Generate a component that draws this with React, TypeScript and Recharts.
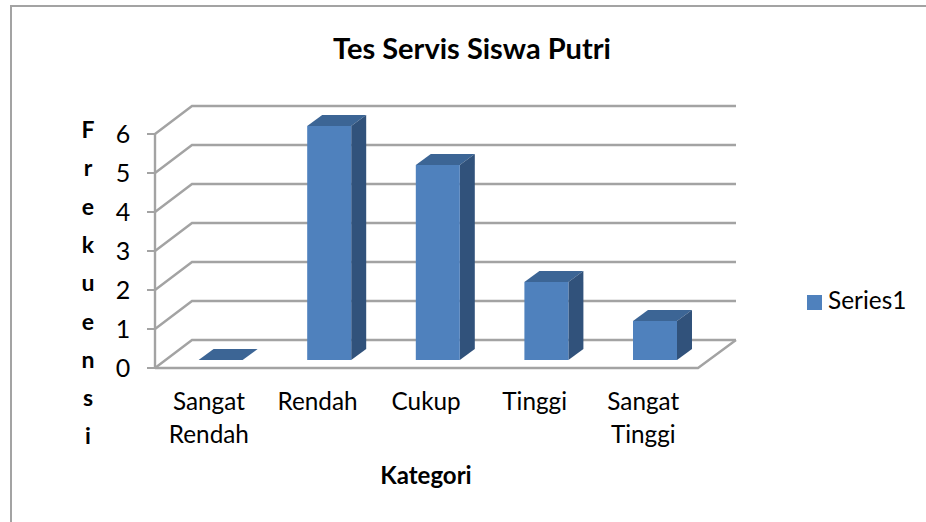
import React from 'react';
import { BarChart, Bar, XAxis, YAxis, CartesianGrid, Legend } from 'recharts';

const categories = ['Sangat Rendah', 'Rendah', 'Cukup', 'Tinggi', 'Sangat Tinggi'];
const values = [0, 6, 5, 2, 1];
const yTicks = [0, 1, 2, 3, 4, 5, 6];
const yTitleLetters = ['F', 'r', 'e', 'k', 'u', 'e', 'n', 's', 'i'];
const data = categories.map((name, i) => ({ name, Series1: values[i] }));

const W = 926, H = 522;
const FONT = 'Lato, Carlito, sans-serif';
const GREY = '#a3a3a3';
const PLOT_LEFT = 166.6, PLOT_W = 543, PLOT_TOP = 126, PLOT_H = 234;
const FRONT_X = 155, FRONT_R = 698, BACK_X = 192, BACK_R = 736;
const FRONT_DY = 8, BACK_DY = -20;
const DX = 15, DY = 11;

const Bar3D = (p: any) => {
  const { x, y, width, height } = p;
  const b = y + height;
  return (
    <g>
      <path d={`M${x},${y}L${x + DX},${y - DY}L${x + width + DX},${y - DY}L${x + width},${y}Z`} fill="#3c6595" />
      {height > 0 && <path d={`M${x + width},${y}L${x + width + DX},${y - DY}L${x + width + DX},${b - DY}L${x + width},${b}Z`} fill="#31527b" />}
      {height > 0 && <rect x={x} y={y} width={width} height={height} fill="#4f81bd" />}
    </g>
  );
};

const gridLine = (p: any) => {
  const y = p.y1;
  const isFloor = Math.abs(y - (PLOT_TOP + PLOT_H)) < 0.5;
  return (
    <g key={`g${y}`} fill="none" stroke={GREY} strokeWidth={2.4}>
      <path d={`M${FRONT_X},${y + FRONT_DY}L${BACK_X},${y + BACK_DY}L${BACK_R},${y + BACK_DY}`} />
      {isFloor && <path d={`M${FRONT_X},${y + FRONT_DY}L${FRONT_R},${y + FRONT_DY}L${BACK_R},${y + BACK_DY}`} />}
    </g>
  );
};

const YTick = (p: any) => {
  const { y, payload } = p;
  return (
    <g>
      {payload.value === yTicks[yTicks.length - 1] && (
        <line x1={FRONT_X} x2={FRONT_X} y1={y + FRONT_DY} y2={y + FRONT_DY + PLOT_H} stroke={GREY} strokeWidth={2.4} />
      )}
      <line x1={FRONT_X - 8} x2={FRONT_X} y1={y + FRONT_DY} y2={y + FRONT_DY} stroke={GREY} strokeWidth={2} />
      <text x={123} y={y + 17} textAnchor="middle" fontFamily={FONT} fontSize={25} fill="#000">
        {payload.value}
      </text>
    </g>
  );
};

const XTick = (p: any) => {
  const { x, payload } = p;
  const words = String(payload.value).split(' ');
  return (
    <text textAnchor="middle" fontFamily={FONT} fontSize={24.3} fill="#000">
      {words.map((w, i) => (
        <tspan key={w} x={x - 12} y={410 + i * 33}>{w}</tspan>
      ))}
    </text>
  );
};

export default function App() {
  return (
    <div style={{ position: 'absolute', left: 0, top: 0, width: W, height: H, overflow: 'hidden', background: '#fff' }}>
      <BarChart
        width={W}
        height={H}
        data={data}
        barSize={44}
        margin={{ left: PLOT_LEFT - 60, right: W - PLOT_LEFT - PLOT_W, top: PLOT_TOP, bottom: 0 }}
      >
        <path d={`M11,${H}L11,6L${W},6`} fill="none" stroke={GREY} strokeWidth={2} />
        <text x={472} y={59} textAnchor="middle" fontFamily={FONT} fontWeight={700} fontSize={29} fill="#000">
          Tes Servis Siswa Putri
        </text>
        <text textAnchor="middle" fontFamily={FONT} fontWeight={700} fontSize={23} fill="#000">
          {yTitleLetters.map((l, i) => (
            <tspan key={i} x={88} y={138 + i * 38.3}>{l}</tspan>
          ))}
        </text>
        <CartesianGrid vertical={false} horizontal={gridLine as any} />
        <XAxis
          dataKey="name"
          height={H - PLOT_TOP - PLOT_H}
          axisLine={false}
          tickLine={false}
          interval={0}
          tick={XTick as any}
          label={{ value: 'Kategori', position: 'insideBottom', content: () => (
            <text x={426} y={484} textAnchor="middle" fontFamily={FONT} fontWeight={700} fontSize={24} fill="#000">Kategori</text>
          ) }}
        />
        <YAxis width={60} domain={[0, 6]} ticks={yTicks} axisLine={false} tickLine={false} interval={0} tick={YTick as any} />
        <Legend
          layout="vertical"
          align="center"
          verticalAlign="middle"
          iconType="square"
          iconSize={15}
          wrapperStyle={{ position: 'absolute', left: 807, top: 285, width: 118, bottom: 'auto', right: 'auto', fontFamily: FONT, fontSize: 24.4 }}
          formatter={(v: string) => <span style={{ color: '#000', marginLeft: 2 }}>{v}</span>}
        />
        <Bar dataKey="Series1" fill="#4f81bd" isAnimationActive={false} shape={Bar3D as any} />
      </BarChart>
    </div>
  );
}
